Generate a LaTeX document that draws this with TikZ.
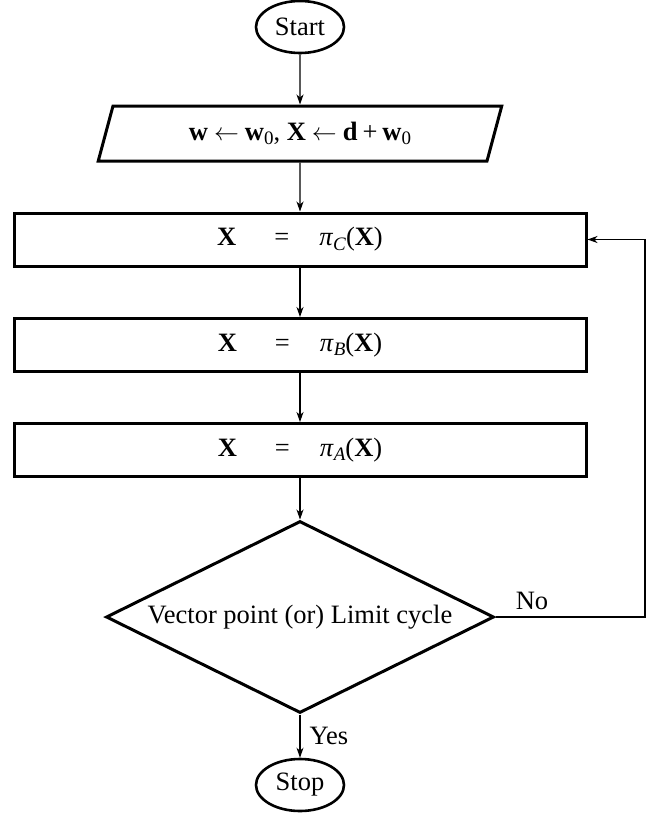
\documentclass[tikz,border=0pt]{standalone}
\usepackage{fontspec}
\setmainfont{Liberation Serif}
\usetikzlibrary{shapes.geometric,arrows.meta}
\newcommand\lowsub[1]{\raisebox{-0.35ex}{\fontsize{19}{19}\selectfont #1}}
\newcommand\projtxt[1]{\textbf{X}\hspace{38pt}=\hspace{30pt}\textit{π}\lowsub{\textit{#1}}(\textbf{X})}
\newcommand\larr{\hspace{6pt}$\leftarrow$\hspace{6pt}}
\begin{document}
\begin{tikzpicture}[x=1pt,y=-1pt,
  every node/.style={font=\fontsize{26.5}{30}\selectfont},
  term/.style={draw,ellipse,line width=2.6pt,minimum width=88pt,minimum height=52pt,inner sep=0pt},
  procbox/.style={draw,rectangle,line width=3pt,minimum width=572pt,minimum height=53pt,inner sep=0pt},
  iobox/.style={draw,trapezium,trapezium left angle=69,trapezium right angle=111,trapezium stretches=true,line width=3pt,minimum width=404pt,minimum height=55pt,inner sep=0pt},
  decision/.style={draw,diamond,aspect=2.02,line width=3pt,minimum width=388pt,minimum height=192pt,inner sep=0pt},
  conn/.style={line width=1.1pt,-{Stealth[length=10pt,width=7pt,inset=3pt]}},
  lbl/.style={inner sep=0pt}]
\useasboundingbox (0,0) rectangle (660,815);
\node[term] (start) at (300,27) {Start};
\node[iobox] (init) at (300,133.5) {\textbf{w}\larr\textbf{w}\lowsub{0}, \textbf{X}\larr\textbf{d}\hspace{5pt}+\hspace{5pt}\textbf{w}\lowsub{0}};
\node[procbox] (pc) at (300,239.5) {\projtxt{C}};
\node[procbox] (pb) at (300,345) {\projtxt{B}};
\node[procbox] (pa) at (300,450) {\projtxt{A}};
\node[decision] (dec) at (300,617) {Vector point (or) Limit cycle};
\node[term] (stop) at (300,785) {Stop};
\coordinate (rr) at (645,0);
\draw[conn] (start) -- (init.north);
\draw[conn] (init.south) -- (pc.north);
\draw[conn] (pc) -- (pb);
\draw[conn] (pb) -- (pa);
\draw[conn] (pa.south) -- (dec.north);
\draw[conn] (dec.east) -- (dec.east -| rr) |- (pc.east);
\draw[conn] (dec.south) -- (stop.north);
\node[lbl] (nolbl) at (532,601) {No};
\node[lbl] (yeslbl) at (329,736) {Yes};
\end{tikzpicture}
\end{document}
